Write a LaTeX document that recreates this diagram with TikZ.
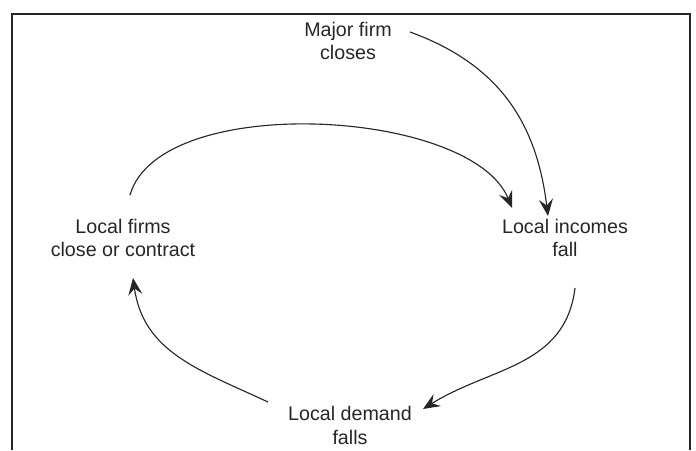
\documentclass[tikz,border=0pt]{standalone}
\usepackage{fontspec}
\setmainfont{Liberation Sans}
\usetikzlibrary{arrows.meta}

\begin{document}
\begin{tikzpicture}[x=0.025cm,y=0.025cm,
    lbl/.style={align=center,text=black!85,font=\fontsize{14}{17}\selectfont},
    flow/.style={-{Stealth[length=12pt,width=10pt,inset=4.5pt]},line width=0.8pt,black!85}]
    \useasboundingbox (0,0) rectangle (696,-450);
    % open frame
    \draw[line width=1.4pt,black!85] (12,-450) -- (12,-14) -- (690,-14) -- (690,-450);

    \node[lbl] (major)   at (348,-41)  {Major firm\\closes};
    \node[lbl] (firms)   at (123,-238) {Local firms\\close or contract};
    \node[lbl] (incomes) at (565,-238) {Local incomes\\fall};
    \node[lbl] (demand)  at (350,-425) {Local demand\\falls};

    \draw [flow] ([shift={(62,9)}]major.center) to[out=-20,in=97,looseness=1.05]
        ([shift={(-17,22)}]incomes.center);
    \draw [flow] ([shift={(7,43)}]firms.center) to[out=74,in=112,looseness=0.72]
        ([shift={(-53,30)}]incomes.center);
    \draw [flow] ([shift={(10,-50)}]incomes.center) to[out=-97,in=32,looseness=1.05]
        ([shift={(73,16)}]demand.center);
    \draw [flow] ([shift={(-82,23)}]demand.center) to[out=155,in=-82,looseness=1.05]
        ([shift={(10,-40)}]firms.center);
\end{tikzpicture}
\end{document}
